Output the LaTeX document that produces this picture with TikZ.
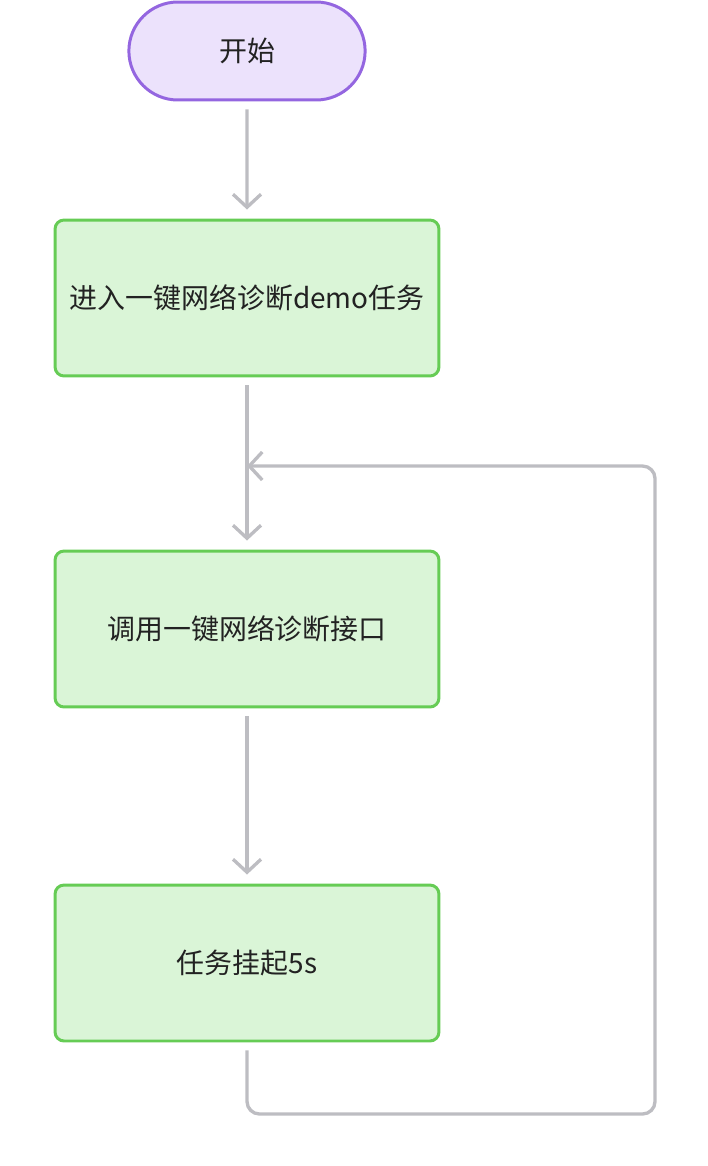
\documentclass[tikz,border=0pt]{standalone}
\usepackage{fontspec}
\setmainfont{Noto Sans CJK SC}
\usetikzlibrary{arrows.meta}
\definecolor{startline}{HTML}{9466E0}
\definecolor{startfill}{HTML}{ECE2FC}
\definecolor{stepline}{HTML}{66CC55}
\definecolor{stepfill}{HTML}{DAF5D7}
\definecolor{flowgray}{HTML}{BDBDC2}
\definecolor{textdark}{HTML}{222222}
\tikzset{
  startbox/.style={rounded rectangle, draw=startline, fill=startfill, line width=1.7pt,
    minimum width=4.96cm, minimum height=1.96cm, text=textdark, font=\fontsize{15.9pt}{18pt}\selectfont},
  stepbox/.style={rectangle, rounded corners=0.18cm, draw=stepline, fill=stepfill, line width=1.7pt,
    minimum width=7.68cm, minimum height=3.12cm, text=textdark, font=\fontsize{15.9pt}{18pt}\selectfont},
  flow/.style={draw=flowgray, line width=1.9pt, -{Straight Barb[length=2.6mm, width=5.6mm]}},
}
\usetikzlibrary{shapes.misc}
\begin{document}
\begin{tikzpicture}[x=0.02cm, y=-0.02cm]
\useasboundingbox (0,0) rectangle (707,1166);
\node[startbox] (start) at (247,51) {开始};
\node[stepbox] (enter) at (247,298) {进入一键网络诊断demo任务};
\node[stepbox] (call) at (247,629) {调用一键网络诊断接口};
\node[stepbox] (wait) at (247,963) {任务挂起5s};
\coordinate (merge) at (247,466);
\coordinate (loop) at (655,1114);
\draw[flow, shorten <=0.16cm, shorten >=0.18cm] (start) -- (enter);
\draw[flow, shorten <=0.16cm, shorten >=0.18cm] (enter) -- (call);
\draw[flow, shorten <=0.16cm, shorten >=0.18cm] (call) -- (wait);
% back to the call step
\draw[flow, shorten <=0.16cm, rounded corners=0.25cm] (wait.south) |- (loop) |- (merge);
\end{tikzpicture}
\end{document}
